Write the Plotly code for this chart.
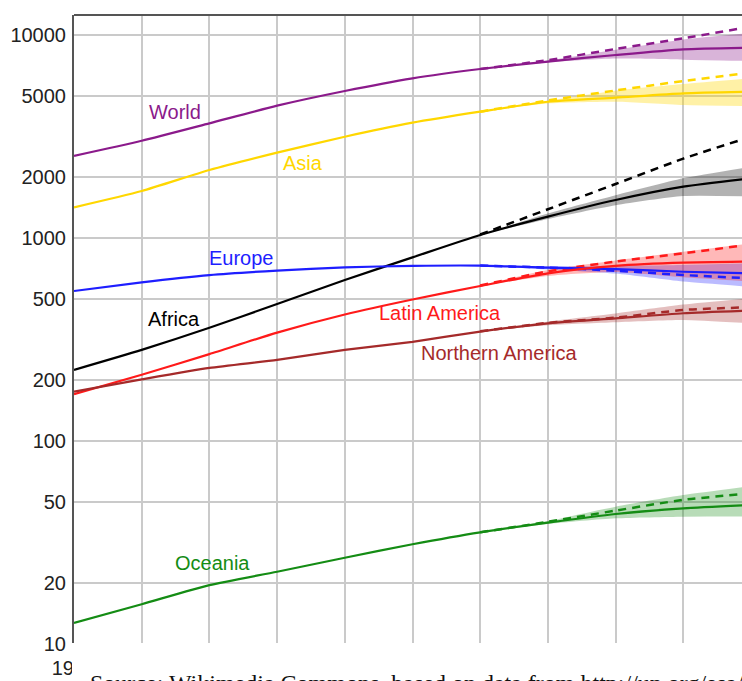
import math
import plotly.graph_objects as go

# ---------------- data (population, millions) ----------------
years = [1950, 1960, 1970, 1980, 1990, 2000, 2010, 2020, 2030, 2040, 2050]
proj_years = [2010, 2020, 2030, 2040, 2050]

world = [2540, 3015, 3672, 4485, 5297, 6116, 6800, 7400, 7970, 8500, 8660]
asia = [1416, 1704, 2163, 2633, 3155, 3698, 4190, 4690, 4913, 5160, 5254]
africa = [224, 281, 361, 473, 621, 803, 1035, 1274, 1539, 1790, 1968]
europe = [548, 605, 657, 691, 717, 729, 731, 714, 703, 682, 670]
latin_america = [170, 212, 268, 342, 420, 498, 580, 670, 729, 756, 765]
northern_america = [175, 201, 229, 251, 281, 308, 346, 380, 402, 426, 439]
oceania = [12.7, 15.7, 19.5, 22.7, 26.6, 31.0, 35.5, 39.6, 43.7, 46.6, 48.4]

world_dash = [6800, 7520, 8534, 9632, 10990]
asia_dash = [4190, 4760, 5330, 5936, 6520]
africa_dash = [1040, 1385, 1845, 2460, 3155]
europe_dash = [731, 714, 690, 657, 633]
latin_america_dash = [583, 685, 765, 840, 930]
northern_america_dash = [347, 382, 405, 442, 456]
oceania_dash = [35.5, 40.0, 45.4, 51.3, 55.2]

world_low = [6800, 7330, 7650, 7560, 7450]
world_high = [6800, 7480, 8450, 9500, 10230]
asia_low = [4190, 4600, 4690, 4520, 4470]
asia_high = [4190, 4750, 5320, 5730, 6120]
africa_low = [1035, 1240, 1450, 1610, 1600]
africa_high = [1035, 1320, 1625, 1970, 2245]
europe_low = [731, 700, 668, 610, 575]
europe_high = [731, 726, 728, 737, 750]
latin_america_low = [580, 650, 680, 640, 610]
latin_america_high = [583, 695, 775, 855, 940]
northern_america_low = [346, 372, 385, 395, 380]
northern_america_high = [346, 388, 425, 470, 505]
oceania_low = [35.5, 39.0, 41.6, 42.4, 42.4]
oceania_high = [35.5, 40.3, 47.5, 54.2, 60.0]

y_tick_values = [10, 20, 50, 100, 200, 500, 1000, 2000, 5000, 10000]
y_tick_labels = ["10", "20", "50", "100", "200", "500", "1000", "2000", "5000", "10000"]

label_text = ["World", "Asia", "Europe", "Africa", "Latin America", "Northern America", "Oceania"]
label_year = [1964.9, 1983.8, 1974.8, 1964.8, 2004.1, 2012.8, 1970.5]
label_value = [4176, 2342, 797, 399, 427, 271, 25.1]

source_text = "Source: Wikimedia Commons, based on data from http://un.org/esa/population/"

# ---------------- styling ----------------
regions = [
    ("World", world, world_dash, world_low, world_high, "#8B1A8B", "rgba(139,26,139,0.33)"),
    ("Asia", asia, asia_dash, asia_low, asia_high, "#FFD700", "rgba(255,215,0,0.35)"),
    ("Africa", africa, africa_dash, africa_low, africa_high, "#000000", "rgba(0,0,0,0.30)"),
    ("Europe", europe, europe_dash, europe_low, europe_high, "#1E1EFF", "rgba(30,30,255,0.30)"),
    ("Latin America", latin_america, latin_america_dash, latin_america_low, latin_america_high,
     "#FF1A1A", "rgba(255,20,20,0.30)"),
    ("Northern America", northern_america, northern_america_dash, northern_america_low,
     northern_america_high, "#A52A2A", "rgba(165,42,42,0.30)"),
    ("Oceania", oceania, oceania_dash, oceania_low, oceania_high, "#148C14", "rgba(20,140,20,0.30)"),
]
label_colors = {r[0]: r[5] for r in regions}

fig = go.Figure()

# uncertainty bands
for name, solid, dash, low, high, color, fill in regions:
    fig.add_trace(go.Scatter(x=proj_years, y=low, mode="lines",
                             line=dict(width=0, shape="spline", smoothing=0.6),
                             showlegend=False, hoverinfo="skip"))
    fig.add_trace(go.Scatter(x=proj_years, y=high, mode="lines", fill="tonexty", fillcolor=fill,
                             line=dict(width=0, shape="spline", smoothing=0.6),
                             showlegend=False, hoverinfo="skip"))
# dashed projections
for name, solid, dash, low, high, color, fill in regions:
    fig.add_trace(go.Scatter(x=proj_years, y=dash, mode="lines",
                             line=dict(color=color, width=2.5, dash="8px,6px", shape="spline", smoothing=0.6),
                             showlegend=False))
# solid lines
for name, solid, dash, low, high, color, fill in regions:
    fig.add_trace(go.Scatter(x=years, y=solid, mode="lines", name=name,
                             line=dict(color=color, width=2.2, shape="spline", smoothing=0.6),
                             showlegend=False))

for t, xv, yv in zip(label_text, label_year, label_value):
    fig.add_annotation(x=xv, y=math.log10(yv), xref="x", yref="y", text=t, showarrow=False,
                       font=dict(family="Liberation Sans, Arial", size=20, color=label_colors[t]),
                       xanchor="center", yanchor="middle")

PLOT_W = 742 - 74
PLOT_H = 681 - 15 - 37

fig.update_layout(
    width=742, height=681,
    margin=dict(l=74, r=0, t=15, b=37, autoexpand=False),
    paper_bgcolor="white", plot_bgcolor="white",
    font=dict(family="Liberation Sans, Arial", size=20, color="#222222"),
    xaxis=dict(range=[1950, 1950 + PLOT_W / 6.77], tick0=1950, dtick=10,
               showgrid=True, gridcolor="#CACACA", gridwidth=1.5,
               zeroline=False, showline=False,
               ticks="outside", ticklen=6, tickcolor="white",
               tickfont=dict(size=20, color="#222222")),
    yaxis=dict(type="log", range=[1, 4.0985], tickvals=y_tick_values, ticktext=y_tick_labels,
               showgrid=True, gridcolor="#CACACA", gridwidth=1.5,
               zeroline=False, showline=True, linecolor="#555555", linewidth=2,
               ticks="outside", ticklen=2, tickcolor="white",
               tickfont=dict(size=20, color="#222222")),
    shapes=[
        dict(type="line", xref="paper", yref="paper", x0=0, x1=1, y0=1, y1=1,
             line=dict(color="#555555", width=2), layer="above"),
    ],
)

# white caption panel laid over the lower edge of the chart
fig.add_annotation(xref="paper", yref="paper", x=-2.5 / PLOT_W, y=1.2 / PLOT_H,
                   xanchor="left", yanchor="top", showarrow=False, text=" ",
                   width=700, height=80, bgcolor="white", borderpad=0, borderwidth=0)
fig.add_annotation(xref="paper", yref="paper", x=14 / PLOT_W, y=-24 / PLOT_H,
                   xanchor="left", yanchor="top", showarrow=False, text=source_text,
                   font=dict(family="Liberation Serif", size=24, color="#111111"))

fig.write_html(
    "out.html",
    config={"displayModeBar": False},
    post_script="document.body.style.margin='0';document.body.style.overflow='hidden';"
                "document.documentElement.style.overflow='hidden';",
)
